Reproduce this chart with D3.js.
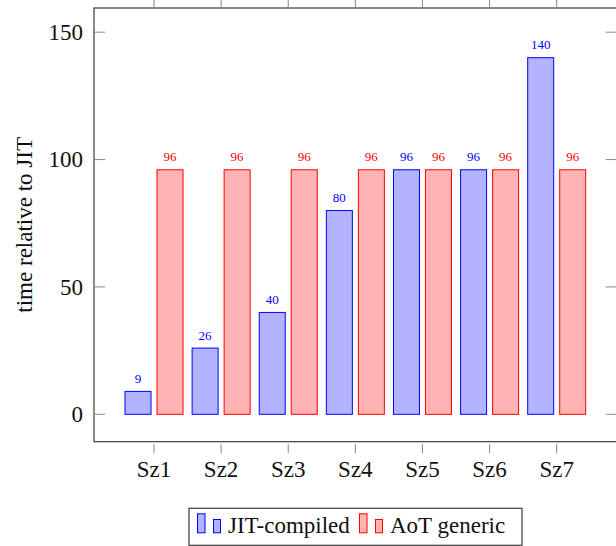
<!DOCTYPE html>
<html><head><meta charset="utf-8">
<script src="https://cdn.jsdelivr.net/npm/d3@7"></script>
<style>
html,body{margin:0;padding:0;background:#fff;}
svg{display:block;}
</style></head>
<body><svg id="c" width="616" height="546"></svg>
<script>
const categories = ["Sz1","Sz2","Sz3","Sz4","Sz5","Sz6","Sz7"];
const jitValues = [9, 26, 40, 80, 96, 96, 140];
const aotValues = [96, 96, 96, 96, 96, 96, 96];
const yTicks = [0, 50, 100, 150];
const seriesNames = ["JIT-compiled", "AoT generic"];

const svg = d3.select("#c").style("font-family", "Liberation Serif, Tinos, Times New Roman");
const L = 94, R = 616.7, T = 8, B = 441.7;
const x = d3.scalePoint().domain(categories).range([L, R]).padding(0.894);
const y = d3.scaleLinear().domain([-10.75, 159.5]).range([B, T]);

const blue = {stroke:"#0000ff", fill:"#b3b3ff"};
const red = {stroke:"#ff0000", fill:"#ffb3b3"};
const off = 16, bw = 26;

function txt(sel, size) {
  return sel.style("font-family", "Liberation Serif, Tinos, Times New Roman").style("font-size", size + "px");
}

const series = [
  {vals: jitValues, c: blue, dx: -off},
  {vals: aotValues, c: red, dx: off}
];
series.forEach(s => {
  const g = svg.append("g");
  g.selectAll("rect").data(categories).join("rect")
    .attr("x", (d,i) => x(d) + s.dx - bw/2)
    .attr("y", (d,i) => y(s.vals[i]))
    .attr("width", bw)
    .attr("height", (d,i) => y(0) - y(s.vals[i]))
    .attr("fill", s.c.fill).attr("stroke", s.c.stroke).attr("stroke-width", 1);
  txt(g.selectAll("text").data(categories).join("text"), 13)
    .attr("x", (d,i) => x(d) + s.dx)
    .attr("y", (d,i) => y(s.vals[i]) - 8.5)
    .attr("text-anchor", "middle")
    .attr("fill", s.c.stroke)
    .text((d,i) => s.vals[i]);
});

svg.append("rect").attr("x", L).attr("y", T).attr("width", R - L).attr("height", B - T)
  .attr("fill", "none").attr("stroke", "#3a3a3a").attr("stroke-width", 1.2);

const yt = svg.append("g");
yTicks.forEach(v => {
  yt.append("line").attr("x1", L).attr("x2", L + 11).attr("y1", y(v)).attr("y2", y(v))
    .attr("stroke", "#888").attr("stroke-width", 1);
  yt.append("line").attr("x1", R - 11).attr("x2", R).attr("y1", y(v)).attr("y2", y(v))
    .attr("stroke", "#888").attr("stroke-width", 1);
  txt(yt.append("text"), 23).attr("x", 83).attr("y", y(v)).attr("dy", "0.34em")
    .attr("text-anchor", "end").attr("fill", "#111").text(v);
});

const xt = svg.append("g");
categories.forEach(c => {
  xt.append("line").attr("x1", x(c)).attr("x2", x(c)).attr("y1", B + 2.5).attr("y2", B + 11.5)
    .attr("stroke", "#888").attr("stroke-width", 1);
  xt.append("line").attr("x1", x(c)).attr("x2", x(c)).attr("y1", 0).attr("y2", T - 0.5)
    .attr("stroke", "#888").attr("stroke-width", 1);
  txt(xt.append("text"), 23).attr("x", x(c)).attr("y", 477).attr("text-anchor", "middle")
    .attr("fill", "#111").text(c);
});

txt(svg.append("text"), 23).attr("transform", "translate(32," + ((T + B) / 2) + ") rotate(-90)")
  .attr("text-anchor", "middle").attr("fill", "#111")
  .text("time relative to JIT");

const lg = svg.append("g");
lg.append("rect").attr("x", 189).attr("y", 508.3).attr("width", 333).attr("height", 37)
  .attr("fill", "#fff").attr("stroke", "#3a3a3a").attr("stroke-width", 1.2);
const legendItems = [
  {name: seriesNames[0], c: blue, x0: 197.5},
  {name: seriesNames[1], c: red, x0: 359.5}
];
legendItems.forEach(it => {
  lg.append("rect").attr("x", it.x0).attr("y", 513.8).attr("width", 7.5).attr("height", 19)
    .attr("fill", it.c.fill).attr("stroke", it.c.stroke).attr("stroke-width", 1);
  lg.append("rect").attr("x", it.x0 + 16).attr("y", 519.5).attr("width", 7).attr("height", 13.3)
    .attr("fill", it.c.fill).attr("stroke", it.c.stroke).attr("stroke-width", 1);
  txt(lg.append("text"), 23).attr("x", it.x0 + 30.5).attr("y", 533.3)
    .attr("fill", "#111").text(it.name);
});
</script></body></html>
